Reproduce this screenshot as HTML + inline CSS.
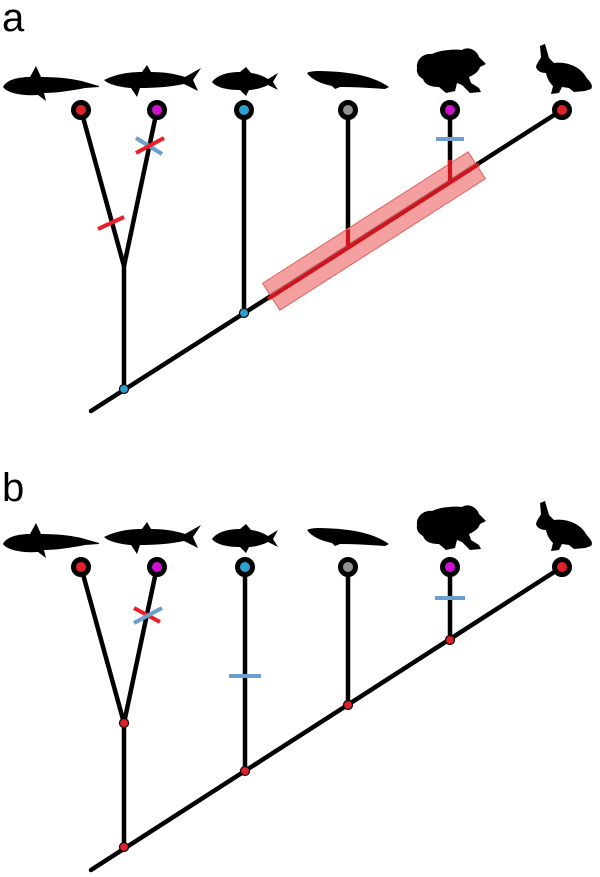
<!DOCTYPE html>
<html><head><meta charset="utf-8"><style>
html,body{margin:0;padding:0;background:#fff;}
svg{display:block;}
text{font-family:"Liberation Sans",sans-serif;}
</style></head><body>
<svg width="600" height="877" viewBox="0 0 600 877" xmlns="http://www.w3.org/2000/svg">
<defs>
<g id="animals" fill="#000">
  <!-- chimaera -->
  <path d="M3,87 C6,80 18,77 30,77 L36,66 L41,77 C60,77 75,79 85,82 L99,86 L99,87 L85,88 C70,91 55,93 44,93 L46,101 L38,95 C25,96 8,94 3,87 Z"/>
  <!-- shark -->
  <path d="M104,80 C118,73 132,72 142,72 L147,65 L151,72 C165,72 176,74 185,77 L201,68 L193,80 L198,91 L184,84 C170,87 155,88 140,88 L137,97 L131,88 C118,87 108,84 104,80 Z"/>
  <!-- fish -->
  <path d="M212,82 C218,74 230,72 240,72 L246,67 L251,73 C259,74 265,77 268,79 L278,73 L273,82 L278,90 L268,85 C260,89 252,90 249,90 L246,96 L240,90 C228,90 217,88 212,82 Z"/>
  <!-- lungfish -->
  <path d="M307,73 C312,70 325,71 340,72 C360,74 376,78 389,87 L385,89 C370,88 355,87 340,87 L335,89 L332,86 C322,84 312,80 307,73 Z"/>
  <!-- frog -->
  <path d="M417,68 C416,59 424,53 432,54 C440,50 455,49 462,50 C468,46 477,50 479,57 L486,64 L480,67 C478,73 473,75 469,77 L471,83 L479,88 L481,92 L470,93 L462,85 L457,83 L455,91 L446,93 L439,87 C431,87 425,85 423,79 C419,77 416,73 417,68 Z"/>
  <!-- rabbit -->
  <path d="M540,46 L545,44 L549,58 C551,60 553,62 554,63 C566,61 581,67 586,77 C589,81 594,85 591,89 L585,91 L574,92 L569,88 L562,87 L559,93 L551,94 L553,86 C549,82 547,78 546,73 C541,73 537,71 536,67 C537,62 540,60 541,57 Z"/>
</g>
</defs>

<text x="2" y="31" font-size="40" fill="#000">a</text>
<text x="2" y="501" font-size="40" fill="#000">b</text>

<!-- Panel a -->
<g>
  <use href="#animals"/>
  <g stroke="#000" stroke-width="4.5" fill="none" stroke-linecap="round">
    <line x1="91" y1="411" x2="562" y2="110"/>
    <line x1="124" y1="389" x2="124" y2="266"/>
    <line x1="124" y1="266" x2="81" y2="110"/>
    <line x1="124" y1="266" x2="157" y2="110"/>
    <line x1="244" y1="313" x2="244" y2="110"/>
    <line x1="348" y1="246" x2="348" y2="110"/>
    <line x1="450" y1="181" x2="450" y2="110"/>
  </g>
  <g transform="translate(374,231) rotate(-32.6)">
    <rect x="-122" y="-16" width="244" height="32" fill="#f08080" fill-opacity="0.75" stroke="#e06060" stroke-width="1"/>
  </g>
  <line x1="268" y1="299" x2="479" y2="164" stroke="#d0141e" stroke-width="4"/>
  <line x1="348" y1="246" x2="348" y2="230" stroke="#d0141e" stroke-width="4"/>
  <line x1="450" y1="181" x2="450" y2="160" stroke="#d0141e" stroke-width="4"/>
  <line x1="98" y1="229" x2="124" y2="217" stroke="#e8202a" stroke-width="4"/>
  <line x1="136" y1="138" x2="162" y2="154" stroke="#6a9fd0" stroke-width="4"/>
  <line x1="136" y1="153" x2="164" y2="138" stroke="#e8202a" stroke-width="4"/>
  <line x1="436" y1="139" x2="464" y2="139" stroke="#6a9fd0" stroke-width="4"/>
  <circle cx="124" cy="389" r="4.5" fill="#2a9fd0" stroke="#000" stroke-width="1.2"/>
  <circle cx="244" cy="313" r="4.5" fill="#2a9fd0" stroke="#000" stroke-width="1.2"/>
  <g stroke="#000" stroke-width="5">
    <circle cx="81" cy="110" r="7.5" fill="#e0202a"/>
    <circle cx="157" cy="110" r="7.5" fill="#d010d0"/>
    <circle cx="244" cy="110" r="7.5" fill="#2a9fd0"/>
    <circle cx="348" cy="110" r="7.5" fill="#909090"/>
    <circle cx="450" cy="110" r="7.5" fill="#d010d0"/>
    <circle cx="562" cy="110" r="7.5" fill="#e0202a"/>
  </g>
</g>

<!-- Panel b -->
<g transform="translate(0,457)">
  <use href="#animals"/>
  <g stroke="#000" stroke-width="4.5" fill="none" stroke-linecap="round">
    <line x1="91" y1="413" x2="562" y2="110"/>
    <line x1="124" y1="390" x2="124" y2="266"/>
    <line x1="124" y1="266" x2="81" y2="110"/>
    <line x1="124" y1="266" x2="157" y2="110"/>
    <line x1="245" y1="314" x2="245" y2="110"/>
    <line x1="348" y1="248" x2="348" y2="110"/>
    <line x1="450" y1="183" x2="450" y2="110"/>
  </g>
  <line x1="134" y1="151" x2="160" y2="165" stroke="#e8202a" stroke-width="4"/>
  <line x1="134" y1="166" x2="162" y2="151" stroke="#6a9fd0" stroke-width="4"/>
  <line x1="229" y1="219" x2="261" y2="219" stroke="#6a9fd0" stroke-width="4"/>
  <line x1="435" y1="141" x2="465" y2="141" stroke="#6a9fd0" stroke-width="4"/>
  <g fill="#e0202a" stroke="#000" stroke-width="1.2">
    <circle cx="124" cy="390" r="4.5"/>
    <circle cx="124" cy="266" r="4.5"/>
    <circle cx="245" cy="314" r="4.5"/>
    <circle cx="348" cy="248" r="4.5"/>
    <circle cx="450" cy="183" r="4.5"/>
  </g>
  <g stroke="#000" stroke-width="5">
    <circle cx="81" cy="110" r="7.5" fill="#e0202a"/>
    <circle cx="157" cy="110" r="7.5" fill="#d010d0"/>
    <circle cx="245" cy="110" r="7.5" fill="#2a9fd0"/>
    <circle cx="348" cy="110" r="7.5" fill="#909090"/>
    <circle cx="450" cy="110" r="7.5" fill="#d010d0"/>
    <circle cx="562" cy="110" r="7.5" fill="#e0202a"/>
  </g>
</g>
</svg>
</body></html>
